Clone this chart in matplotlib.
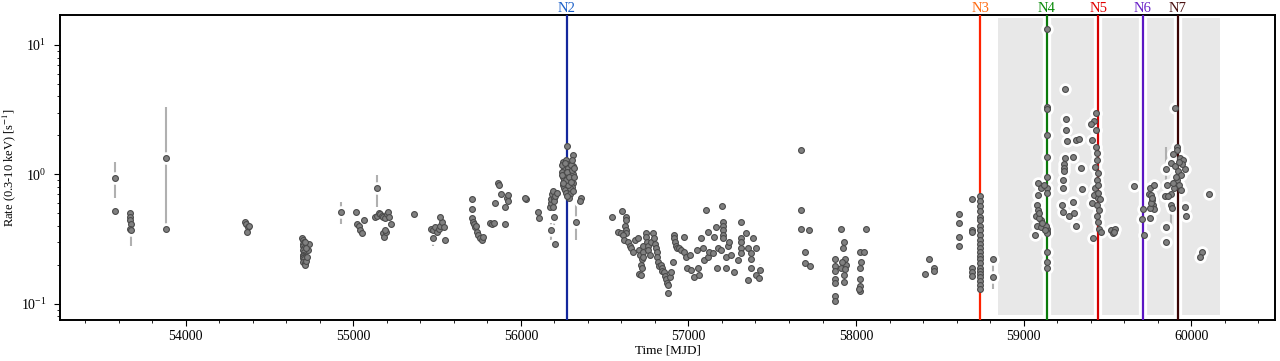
import numpy as np
import matplotlib
matplotlib.use("Agg")
import matplotlib.pyplot as plt
import matplotlib.transforms as mtransforms

plt.rcParams['font.family'] = ['Liberation Serif', 'DejaVu Serif']
plt.rcParams['mathtext.fontset'] = 'stix'

# (MJD, rate), grouped by epoch
seg_early = [
    (53576, 0.93), (53576, 0.52), (53664, 0.50), (53668, 0.47), (53668, 0.44), (53670, 0.41),
    (53666, 0.38), (53672, 0.37), (53881, 1.33), (53881, 0.38),
    (54356, 0.43), (54362, 0.41), (54370, 0.39), (54375, 0.40), (54365, 0.36),
    (54695, 0.32), (54700, 0.31), (54705, 0.30), (54700, 0.29), (54698, 0.28), (54703, 0.27),
    (54700, 0.26), (54706, 0.25), (54697, 0.24), (54702, 0.235), (54708, 0.23), (54700, 0.225),
    (54705, 0.22), (54699, 0.21), (54710, 0.205), (54712, 0.20), (54720, 0.215), (54725, 0.23),
    (54730, 0.26), (54735, 0.29), (54715, 0.27), (54712, 0.30),
    (54925, 0.51), (55015, 0.51), (55020, 0.41), (55035, 0.40), (55040, 0.37), (55050, 0.35),
    (55065, 0.44), (55140, 0.78), (55130, 0.47), (55140, 0.48), (55150, 0.50), (55160, 0.49),
    (55170, 0.48), (55175, 0.47), (55190, 0.46), (55200, 0.49), (55205, 0.51), (55215, 0.47),
    (55225, 0.41), (55175, 0.35), (55180, 0.33), (55195, 0.36), (55190, 0.37),
]

seg_n2 = [
    (55360, 0.49), (55462, 0.38), (55475, 0.37), (55490, 0.39), (55500, 0.36), (55510, 0.38),
    (55520, 0.40), (55530, 0.43), (55540, 0.39), (55475, 0.32), (55515, 0.47), (55545, 0.31),
    (55707, 0.64), (55707, 0.54), (55710, 0.46), (55715, 0.43), (55720, 0.41), (55725, 0.39),
    (55735, 0.36), (55745, 0.34), (55755, 0.32), (55765, 0.31), (55772, 0.33), (55730, 0.40),
    (55814, 0.42), (55825, 0.41), (55840, 0.42), (55844, 0.60), (55862, 0.85), (55868, 0.82),
    (55880, 0.71), (55904, 0.56), (55904, 0.41), (55916, 0.66), (55925, 0.69), (55920, 0.62),
    (56029, 0.64), (56025, 0.66), (56100, 0.51), (56106, 0.46),
    (56172, 0.56), (56178, 0.60), (56182, 0.65), (56186, 0.70), (56190, 0.74), (56196, 0.66),
    (56200, 0.62), (56206, 0.68), (56215, 0.72), (56190, 0.56), (56178, 0.37), (56200, 0.47),
    (56206, 0.29),
    (56273, 1.67), (56309, 1.41), (56309, 1.17), (56250, 1.25), (56255, 1.15), (56260, 1.10),
    (56248, 1.05), (56262, 1.00), (56252, 0.95), (56258, 0.90), (56265, 0.86), (56250, 0.82),
    (56256, 0.78), (56262, 0.75), (56270, 1.30), (56278, 1.20), (56282, 1.12), (56290, 1.05),
    (56300, 1.18), (56305, 1.28), (56310, 1.00), (56300, 0.92), (56312, 0.85), (56305, 0.80),
    (56290, 0.78), (56280, 0.82), (56272, 0.90), (56268, 0.72), (56295, 0.70), (56285, 0.66),
    (56273, 0.68), (56310, 0.74), (56244, 1.18), (56246, 0.98), (56254, 0.86), (56266, 1.22),
    (56276, 1.05), (56286, 0.95), (56296, 0.88), (56302, 1.08), (56314, 0.95), (56318, 1.12),
    (56327, 0.43), (56357, 0.66), (56350, 0.62),
]

seg_low = [
    (56541, 0.47), (56601, 0.52), (56630, 0.47), (56625, 0.44), (56622, 0.40), (56627, 0.37),
    (56630, 0.35), (56580, 0.36), (56595, 0.35), (56610, 0.34), (56618, 0.31), (56640, 0.30),
    (56650, 0.28), (56660, 0.27), (56670, 0.25), (56680, 0.31), (56700, 0.32), (56745, 0.35),
    (56703, 0.26), (56710, 0.24), (56720, 0.22), (56715, 0.20), (56725, 0.19), (56703, 0.17),
    (56715, 0.167), (56727, 0.28), (56727, 0.25), (56730, 0.23), (56745, 0.33), (56750, 0.30),
    (56757, 0.28), (56760, 0.26), (56770, 0.24), (56775, 0.30), (56787, 0.35), (56793, 0.32),
    (56800, 0.29), (56805, 0.27), (56810, 0.25), (56815, 0.23), (56820, 0.21), (56823, 0.195),
    (56834, 0.20), (56840, 0.19), (56845, 0.18), (56852, 0.175), (56860, 0.165), (56866, 0.155),
    (56870, 0.145), (56876, 0.12), (56880, 0.14), (56890, 0.16), (56894, 0.175), (56906, 0.21),
    (56912, 0.34), (56912, 0.32), (56918, 0.30), (56924, 0.28), (56930, 0.27), (56942, 0.27),
    (56954, 0.26), (56972, 0.33), (56972, 0.25), (56984, 0.23), (56990, 0.19), (57007, 0.237),
    (57013, 0.181), (57031, 0.16), (57049, 0.26), (57055, 0.19), (57061, 0.166), (57073, 0.32),
    (57085, 0.27), (57091, 0.217), (57103, 0.53), (57115, 0.36), (57115, 0.229), (57121, 0.25),
    (57145, 0.245), (57151, 0.33), (57163, 0.39), (57169, 0.19), (57175, 0.27), (57192, 0.26),
    (57199, 0.57), (57205, 0.43), (57205, 0.40), (57205, 0.37), (57205, 0.34), (57205, 0.32),
    (57223, 0.229), (57223, 0.19), (57234, 0.28), (57240, 0.30), (57252, 0.237), (57270, 0.175),
    (57294, 0.217), (57312, 0.43), (57312, 0.32), (57312, 0.30), (57312, 0.27), (57312, 0.245),
    (57342, 0.35), (57354, 0.27), (57354, 0.152), (57371, 0.245), (57371, 0.22), (57371, 0.19),
    (57383, 0.32), (57401, 0.27), (57401, 0.166), (57419, 0.157), (57425, 0.181),
    (57670, 1.53), (57670, 0.53), (57670, 0.38), (57718, 0.37), (57694, 0.25), (57694, 0.205),
    (57724, 0.195), (57908, 0.376), (57926, 0.30), (57920, 0.27), (57873, 0.22), (57932, 0.22),
    (57873, 0.195), (57938, 0.20), (57908, 0.19), (57873, 0.18), (57926, 0.166), (57873, 0.155),
    (57926, 0.146), (57873, 0.144), (57873, 0.114), (57873, 0.105), (57915, 0.21), (57932, 0.185),
    (58058, 0.376), (58022, 0.25), (58046, 0.25), (58028, 0.21), (58022, 0.19), (58022, 0.155),
    (58022, 0.137), (58022, 0.125), (58016, 0.13),
    (58409, 0.17), (58433, 0.22), (58463, 0.19), (58463, 0.18),
    (58612, 0.49), (58612, 0.42), (58612, 0.33), (58612, 0.28),
    (58690, 0.64), (58690, 0.37), (58692, 0.36), (58690, 0.19), (58692, 0.175), (58690, 0.165),
    (58743, 0.68), (58743, 0.62), (58743, 0.57), (58743, 0.52), (58743, 0.47), (58743, 0.44),
    (58743, 0.40), (58743, 0.37), (58743, 0.34), (58743, 0.31), (58743, 0.29), (58743, 0.27),
    (58743, 0.25), (58743, 0.235), (58743, 0.22), (58743, 0.205), (58743, 0.19), (58743, 0.18),
    (58743, 0.17), (58743, 0.16), (58743, 0.15), (58743, 0.14), (58743, 0.13),
    (58815, 0.22), (58815, 0.16),
]

seg_recent = [
    (59137, 13.2), (59137, 3.3), (59137, 3.2), (59137, 2.0), (59137, 1.35), (59137, 0.95),
    (59137, 0.78), (59137, 0.72), (59137, 0.38), (59137, 0.36), (59137, 0.35), (59137, 0.25),
    (59137, 0.21), (59137, 0.19),
    (59084, 0.85), (59102, 0.78), (59120, 0.82), (59084, 0.69), (59078, 0.58), (59084, 0.53),
    (59072, 0.48), (59102, 0.44), (59078, 0.40), (59102, 0.39), (59131, 0.40), (59066, 0.34),
    (59126, 0.37), (59090, 0.46), (59095, 0.50), (59108, 0.42),
    (59245, 4.6), (59251, 2.7), (59251, 2.22), (59257, 1.8), (59311, 1.83), (59329, 1.87),
    (59245, 1.33), (59239, 1.2), (59239, 1.12), (59239, 1.07), (59293, 1.35), (59341, 1.11),
    (59233, 0.9), (59233, 0.78), (59347, 0.77), (59227, 0.58), (59233, 0.51), (59293, 0.61),
    (59269, 0.48), (59299, 0.50), (59311, 0.40),
    (59435, 3.0), (59423, 2.6), (59405, 2.47), (59435, 2.2), (59411, 1.83), (59435, 1.62),
    (59441, 1.45), (59441, 1.28), (59429, 1.13), (59447, 1.02), (59441, 0.9), (59429, 0.78),
    (59447, 0.82), (59423, 0.69), (59447, 0.66), (59411, 0.6), (59441, 0.58), (59459, 0.65),
    (59441, 0.48), (59447, 0.43), (59453, 0.38), (59465, 0.36), (59417, 0.32), (59450, 0.53),
    (59444, 0.72),
    (59519, 0.37), (59531, 0.35), (59543, 0.38), (59537, 0.36),
    (59657, 0.81), (59752, 0.79), (59776, 0.82), (59746, 0.71), (59758, 0.69), (59764, 0.63),
    (59770, 0.58), (59776, 0.54), (59752, 0.55), (59758, 0.60), (59764, 0.66),
    (59710, 0.54), (59704, 0.45), (59716, 0.34), (59752, 0.46),
    (59848, 1.09), (59854, 0.82), (59842, 0.68), (59848, 0.39), (59848, 0.30),
    (59878, 0.58), (59884, 0.55), (59901, 3.24),
    (59913, 1.62), (59913, 1.53), (59890, 1.43), (59931, 1.33), (59949, 1.28), (59878, 1.22),
    (59901, 1.15), (59919, 1.07), (59961, 1.09), (59937, 0.98), (59913, 0.9), (59925, 0.82),
    (59896, 0.78), (59878, 0.71), (59860, 0.68), (59937, 0.75), (59943, 1.2), (59925, 1.25),
    (59907, 0.95), (59890, 0.86), (59961, 0.56), (59967, 0.48),
    (60104, 0.71), (60068, 0.25), (60056, 0.23),
]

# points whose error bars are visible: (MJD, rate, err_low, err_high)
big_errors = [
    (53576, 0.93, 0.27, 0.31), (53881, 1.33, 0.95, 2.0), (53670, 0.38, 0.10, 0.03),
    (54925, 0.51, 0.10, 0.10), (55140, 0.78, 0.22, 0.20), (55475, 0.32, 0.04, 0.06),
    (56327, 0.43, 0.12, 0.17), (56200, 0.47, 0.08, 0.08), (56178, 0.37, 0.06, 0.05),
    (59848, 1.09, 0.30, 0.55), (59878, 0.58, 0.18, 0.10), (57425, 0.181, 0.03, 0.02),
    (58815, 0.16, 0.03, 0.04), (57873, 0.105, 0.01, 0.02),
]

novae = ['N2', 'N3', 'N4', 'N5', 'N6', 'N7']
nova_mjd = [56273, 58743, 59137, 59447, 59710, 59919]
nova_line_colors = ['#13279c', '#ff2200', '#0a7a0a', '#d60000', '#5b17c4', '#3a0505']
nova_text_colors = ['#1a5fc8', '#ff6a10', '#0a8a0a', '#e00000', '#6a22c8', '#4a1010']
shade_span = (58850, 60175)

pts = np.array(seg_early + seg_n2 + seg_low + seg_recent)
errs = np.array(big_errors)

fig = plt.figure(figsize=(12.8, 3.61), dpi=100)
ax = fig.add_axes([0.047, 0.114, 0.949, 0.844])

ax.axvspan(*shade_span, ymin=0.016, ymax=0.99, color='#e8e8e8', lw=0, zorder=0)

ax.errorbar(errs[:, 0], errs[:, 1], yerr=[errs[:, 2], errs[:, 3]], fmt='none',
            ecolor='#b0b0b0', elinewidth=1.5, zorder=1)

for t, lc in zip(nova_mjd, nova_line_colors):
    ax.axvline(t, color='white', lw=6, zorder=1.5)
    ax.axvline(t, color=lc, lw=1.6, zorder=3)

# white halo under the points, then the points themselves
ax.plot(pts[:, 0], pts[:, 1], 'o', ms=8, color='white', mec='white', zorder=2)
ax.plot(pts[:, 0], pts[:, 1], 'o', ms=4.2, mfc='#808080', mec='#4a4a4a', mew=0.8, zorder=4)

trans = mtransforms.blended_transform_factory(ax.transData, ax.transAxes)
for name, t, tc in zip(novae, nova_mjd, nova_text_colors):
    ax.text(t, 1.0, name, color=tc, ha='center', va='bottom', fontsize=10.5, transform=trans)

ax.set_yscale('log')
ax.set_xlim(53250, 60500)
ax.set_ylim(0.075, 17)
ax.set_xticks([54000, 55000, 56000, 57000, 58000, 59000, 60000])
ax.xaxis.set_minor_locator(matplotlib.ticker.MultipleLocator(200))
ax.tick_params(which='both', direction='out', labelsize=10)
ax.tick_params(which='major', length=4)
ax.tick_params(which='minor', length=2.5)
ax.tick_params(axis='y', pad=6)
for sp in ax.spines.values():
    sp.set_linewidth(1.4)

ax.set_xlabel('Time [MJD]', fontsize=9.5, labelpad=1)
ax.set_ylabel('Rate (0.3-10 keV) [s$^{-1}$]', fontsize=9, labelpad=2)

fig.savefig('out.png', dpi=100)
